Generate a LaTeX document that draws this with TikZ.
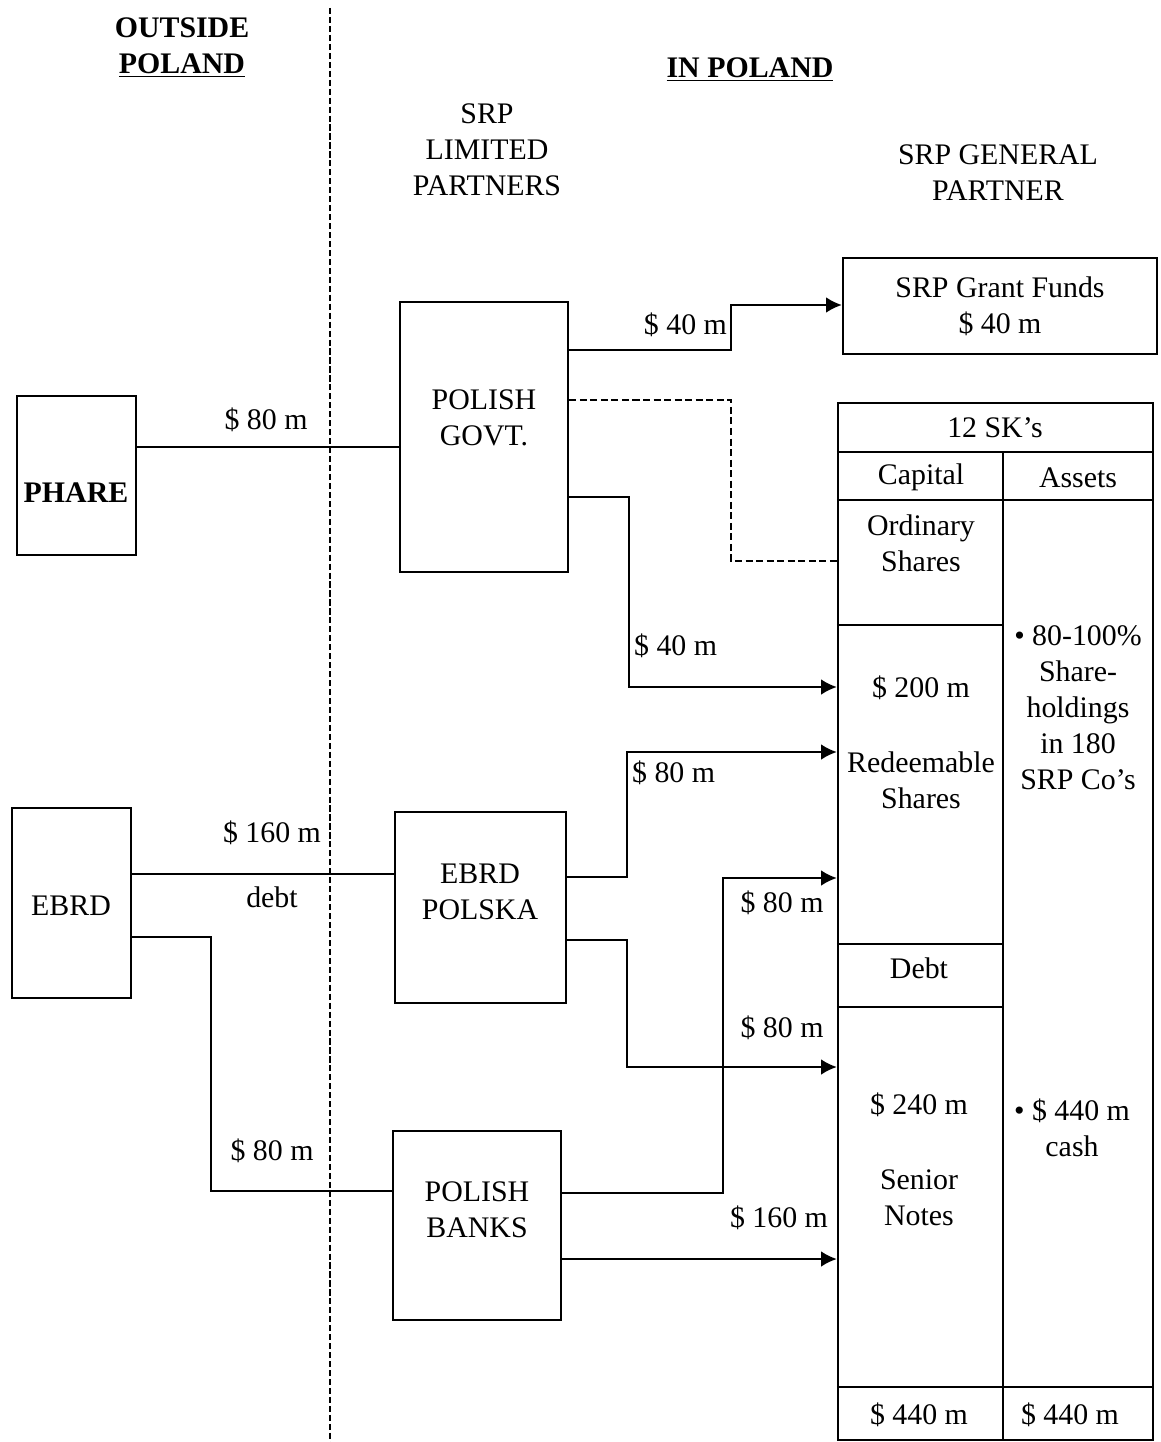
\documentclass[tikz,border=0pt]{standalone}
\usepackage{fontspec}
\setmainfont{Liberation Serif}
\usetikzlibrary{arrows.meta,positioning,calc}

\begin{document}
\begin{tikzpicture}[x=0.02cm,y=-0.02cm,
  every node/.style={font=\fontsize{17}{20.5}\selectfont,inner sep=1pt},
  fundbox/.style={draw,line width=1.4pt,inner sep=0pt},
  flow/.style={line width=1.2pt},
  arr/.style={flow,-{Latex[length=9pt,width=9pt]}}]
\useasboundingbox (0,0) rectangle (1160,1442);

% border between the two sides
\draw[line width=1.5pt,dash pattern=on 3.5pt off 1.6pt] (330,8) -- (330,1442);

\node[font=\bfseries\fontsize{17}{20.5}\selectfont,align=center] (outside) at (182,48) {OUTSIDE\\\underline{POLAND}};
\node[font=\bfseries\fontsize{17}{20.5}\selectfont] (inpoland) at (750,70) {\underline{IN POLAND}};
\node[align=center] (limited) at (487,150) {SRP\\LIMITED\\PARTNERS};
\node[align=center] (general) at (998,173) {SRP GENERAL\\PARTNER};

% boxes
\node[fundbox,minimum width=2.38cm,minimum height=3.18cm] (phare) at (76.5,475.5) {};
\node[font=\bfseries\fontsize{17}{20.5}\selectfont] (tphare) at (76,493) {PHARE};
\node[fundbox,minimum width=3.36cm,minimum height=5.4cm] (govt) at (484,437) {};
\node[align=center] (tgovt) at (484,418) {POLISH\\GOVT.};
\node[fundbox,minimum width=6.28cm,minimum height=1.92cm,align=center] (grant) at (1000,306) {SRP Grant Funds\\\$ 40 m};
\node[fundbox,minimum width=2.38cm,minimum height=3.8cm] (ebrd) at (71.5,903) {};
\node (tebrd) at (71,906) {EBRD};
\node[fundbox,minimum width=3.42cm,minimum height=3.82cm] (epolska) at (480.5,907.5) {};
\node[align=center] (tepolska) at (480,892) {EBRD\\POLSKA};
\node[fundbox,minimum width=3.36cm,minimum height=3.78cm] (banks) at (477,1225.5) {};
\node[align=center] (tbanks) at (477,1210) {POLISH\\BANKS};

% the 12 SK's table
\node[fundbox,minimum width=6.3cm,minimum height=20.74cm] (sk) at (995.5,921.5) {};
\foreach \yy in {452,500,1387}
  \draw[flow] (sk.west |- 0,\yy) -- (sk.east |- 0,\yy);
\foreach \yy in {625,944,1007}
  \draw[flow] (sk.west |- 0,\yy) -- (1003,\yy);
\draw[flow] (1003,452) -- (sk.south -| 1003,0);
\node (sktitle) at (995,428) {12 SK's};
\node (capital) at (921,477) {Capital};
\node (assets) at (1078,478) {Assets};
\node[align=center] (ordinary) at (921,543) {Ordinary\\Shares};
\node (cap200) at (921,688) {\$ 200 m};
\node[align=center] (redeem) at (921,780) {Redeemable\\Shares};
\node (debt) at (919,968) {Debt};
\node (cap240) at (919,1105) {\$ 240 m};
\node[align=center] (senior) at (919,1198) {Senior\\Notes};
\node[align=center] (holdings) at (1078,708) {\textbullet\ 80-100\%\\Share-\\holdings\\in 180\\SRP Co's};
\node[align=center] (cash) at (1072,1128) {\textbullet\ \$ 440 m\\cash};
\node (totcap) at (919,1415) {\$ 440 m};
\node (totass) at (1070,1415) {\$ 440 m};

% flows
\draw[flow] (phare.east |- 0,447) -- (govt.west |- 0,447);
\node (lphare) at (266,420) {\$ 80 m};
\draw[arr] (govt.east |- 0,350) -| (731,305) -- (grant.west |- 0,305);
\node[anchor=east] (lgrant) at (729,325) {\$ 40 m};
\draw[flow,dash pattern=on 4pt off 2pt] (govt.east |- 0,400) -| (731,561) -- (sk.west |- 0,561);
\draw[arr] (govt.east |- 0,497) -| (629,687) -- (sk.west |- 0,687);
\node[anchor=west] (lgovt) at (632,646) {\$ 40 m};

\draw[flow] (ebrd.east |- 0,874) -- (epolska.west |- 0,874);
\node (lebrd) at (272,833) {\$ 160 m};
\node (ldebt) at (272,897) {debt};
\draw[flow] (ebrd.east |- 0,937) -| (211,1191) -- (banks.west |- 0,1191);
\node (lbanks) at (272,1151) {\$ 80 m};

\draw[arr] (epolska.east |- 0,877) -| (627,752) -- (sk.west |- 0,752);
\node[anchor=west] (lpolred) at (630,773) {\$ 80 m};
\draw[arr] (epolska.east |- 0,940) -| (627,1067) -- (sk.west |- 0,1067);
\node (lpolsen) at (782,1028) {\$ 80 m};
\draw[arr] (banks.east |- 0,1193) -| (723,878) -- (sk.west |- 0,878);
\node (lbankred) at (782,903) {\$ 80 m};
\draw[arr] (banks.east |- 0,1259) -- (sk.west |- 0,1259);
\node (lbanksen) at (779,1218) {\$ 160 m};
\end{tikzpicture}
\end{document}
